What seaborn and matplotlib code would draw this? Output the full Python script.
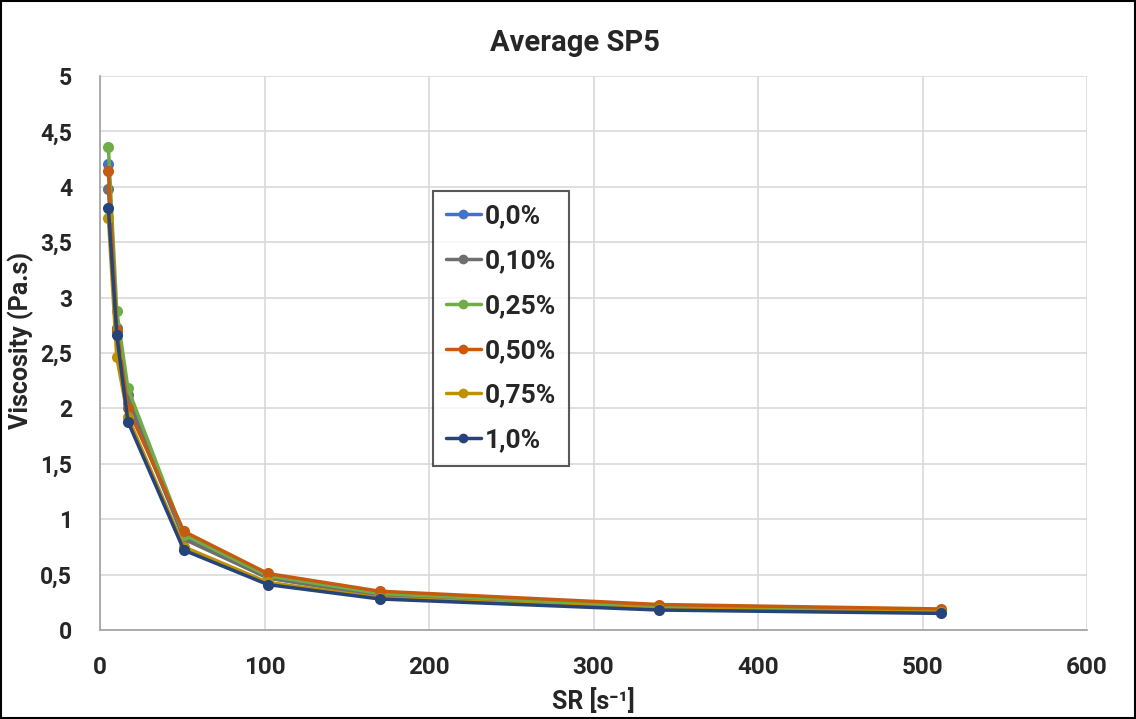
import matplotlib
matplotlib.use("Agg")
import matplotlib.pyplot as plt
import seaborn as sns
import pandas as pd
from matplotlib.ticker import FuncFormatter, MultipleLocator

shear_rate = [5.1, 10.2, 17.0, 51.0, 102.0, 170.0, 340.0, 511.0]
series_names = ["0,0%", "0,10%", "0,25%", "0,50%", "0,75%", "1,0%"]
v_00 = [4.21, 2.73, 2.05, 0.83, 0.47, 0.31, 0.20, 0.17]
v_10 = [3.98, 2.70, 2.12, 0.82, 0.47, 0.31, 0.20, 0.17]
v_25 = [4.36, 2.88, 2.18, 0.86, 0.49, 0.33, 0.21, 0.18]
v_50 = [4.14, 2.71, 2.00, 0.89, 0.51, 0.35, 0.23, 0.19]
v_75 = [3.72, 2.46, 1.92, 0.75, 0.43, 0.29, 0.19, 0.16]
v_100 = [3.81, 2.66, 1.88, 0.72, 0.41, 0.28, 0.18, 0.15]
colors = ["#4472C4", "#6F6F6F", "#70AD47", "#C55A11", "#BF9000", "#264478"]

frames = []
for name, vals in zip(series_names, [v_00, v_10, v_25, v_50, v_75, v_100]):
    frames.append(pd.DataFrame({"SR": shear_rate, "Viscosity": vals, "Series": name}))
df = pd.concat(frames, ignore_index=True)

sns.set_theme(style="whitegrid")
plt.rcParams["font.family"] = ["Roboto", "DejaVu Sans"]

fig = plt.figure(figsize=(11.36, 7.19), dpi=100)
ax = fig.add_axes([100 / 1136, 1 - 630 / 719, 987 / 1136, 554 / 719])

sns.lineplot(data=df, x="SR", y="Viscosity", hue="Series", hue_order=series_names,
             palette=colors, marker="o", markersize=8, markeredgewidth=0,
             linewidth=2.5, ax=ax, sort=False, estimator=None)

ax.set_xlim(0, 600)
ax.set_ylim(0, 5)
ax.xaxis.set_major_locator(MultipleLocator(100))
ax.yaxis.set_major_locator(MultipleLocator(0.5))
ax.yaxis.set_major_formatter(FuncFormatter(lambda v, p: ("%g" % v).replace(".", ",")))
ax.grid(True, color="#D9D9D9", linewidth=1.2)
for s in ["top", "right"]:
    ax.spines[s].set_visible(False)
for s in ["left", "bottom"]:
    ax.spines[s].set_color("#A0A0A0")
    ax.spines[s].set_linewidth(1.2)
ax.tick_params(axis="x", length=0, labelsize=17.5, pad=19)
ax.tick_params(axis="y", length=0, labelsize=16.5, pad=20)
for lab in ax.get_xticklabels() + ax.get_yticklabels():
    lab.set_fontweight("bold")

ax.set_xlabel("SR [s⁻¹]", fontsize=18, fontweight="bold", labelpad=6)
ax.set_ylabel("Viscosity (Pa.s)", fontsize=18, fontweight="bold")
ax.yaxis.set_label_coords((34 - 100) / 987, (630 - 340) / 554)
fig.text(575 / 1136, 1 - 43 / 719, "Average SP5", fontsize=21, fontweight="bold",
         ha="center", va="center")

leg = ax.legend(loc="upper left", bbox_to_anchor=(333 / 987, (630 - 191) / 554),
                borderaxespad=0, frameon=True, fancybox=False,
                prop={"weight": "bold", "size": 19},
                handlelength=1.3, labelspacing=0.79, borderpad=0.5, handletextpad=0.15)
leg.get_frame().set_edgecolor("#303030")
leg.get_frame().set_linewidth(1.5)
for h in leg.legend_handles:
    h.set_markersize(7)

fig.patches.append(plt.Rectangle((0.001, 0.001), 0.998, 0.998, transform=fig.transFigure,
                                 fill=False, edgecolor="black", linewidth=1.5))
fig.savefig("out.png", dpi=100)
